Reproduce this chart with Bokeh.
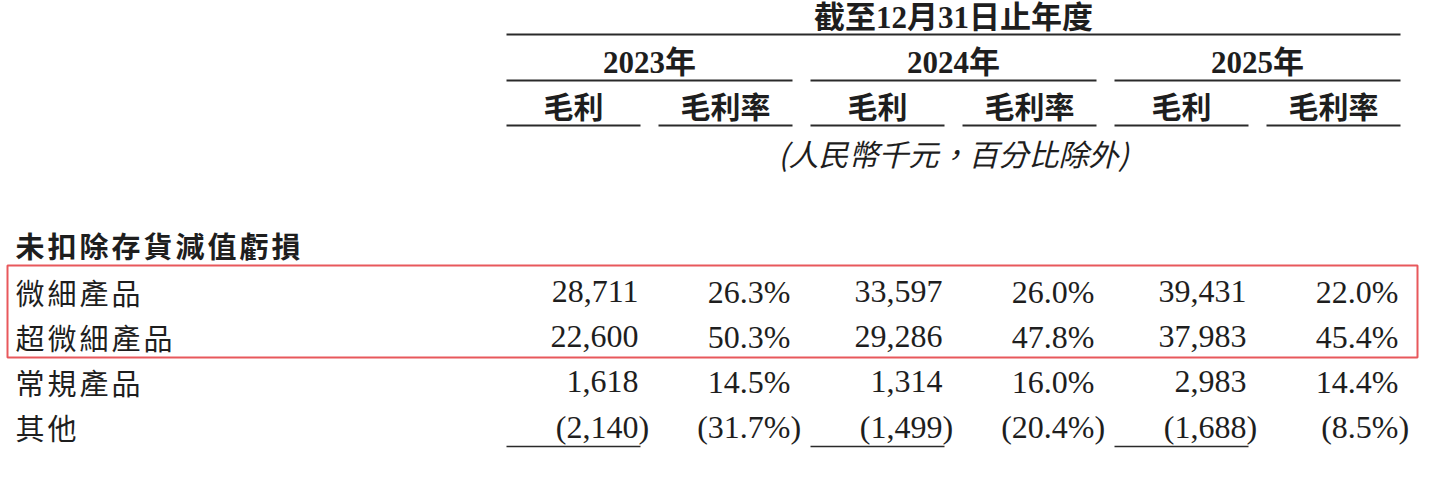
from bokeh.plotting import figure
from bokeh.models import Range1d, ColumnDataSource
from bokeh.core.properties import value
from bokeh.embed import file_html
from bokeh.resources import INLINE

# ---------------- data ----------------
title = "截至12月31日止年度"
years = ["2023年", "2024年", "2025年"]
sub_headers = ["毛利", "毛利率"]
unit_note = "(人民幣千元，百分比除外)"
section = "未扣除存貨減值虧損"
categories = ["微細產品", "超微細產品", "常規產品", "其他"]
gp_2023 = [28711, 22600, 1618, -2140]
gm_2023 = [26.3, 50.3, 14.5, -31.7]
gp_2024 = [33597, 29286, 1314, -1499]
gm_2024 = [26.0, 47.8, 16.0, -20.4]
gp_2025 = [39431, 37983, 2983, -1688]
gm_2025 = [22.0, 45.4, 14.4, -8.5]
highlighted = ["微細產品", "超微細產品"]

# ---------------- layout ----------------
W, H = 1422, 462
group_left = [506, 810, 1114]
sub_w, gap = 134, 18
group_w = 2 * sub_w + gap
row_y0, row_dy = 291, 45
ink = "#1e1e1e"
SERIF_CJK = "'Liberation Serif', 'Noto Sans CJK TC'"
CJK = "'Noto Sans CJK TC'"

p = figure(width=W, height=H, output_backend="svg", toolbar_location=None,
           x_range=Range1d(0, W), y_range=Range1d(H, 0),
           min_border=0)
p.axis.visible = False
p.grid.visible = False
p.outline_line_color = None
p.background_fill_color = "white"
p.border_fill_color = "white"


def txt(x, y, t, size, align="center", bold=False, italic=False, font=SERIF_CJK):
    p.text(x=[x], y=[y], text=[t], text_font=value(font),
           text_font_size=f"{size}px", text_align=align, text_baseline="middle",
           text_font_style=("bold" if bold else ("italic" if italic else "normal")),
           text_color=ink)


def spaced(x, y, t, size, pitch, bold=False):
    # CJK text set with letter spacing: one glyph per character
    xs = [x + i * pitch for i in range(len(t))]
    p.text(x=xs, y=[y] * len(t), text=list(t), text_font=value(CJK),
           text_font_size=f"{size}px", text_align="left", text_baseline="middle",
           text_font_style=("bold" if bold else "normal"), text_color=ink)


def hline(x0, x1, y, w=2.2):
    p.segment(x0=[x0], y0=[y], x1=[x1], y1=[y], line_color="#2a2a2a", line_width=w)


full_left, full_right = group_left[0], group_left[-1] + group_w
centre = (full_left + full_right) / 2

# header
txt(centre, 17, title, 31, bold=True)
hline(full_left, full_right, 34)
for gl, yr in zip(group_left, years):
    txt(gl + group_w / 2, 62, yr, 31, bold=True)
    hline(gl, gl + group_w, 80)
    for k, sh in enumerate(sub_headers):
        x0 = gl + k * (sub_w + gap)
        txt(x0 + sub_w / 2, 104, sh, 30, bold=True, font=CJK)
        hline(x0, x0 + sub_w, 125)
txt(centre, 152, unit_note, 30, italic=True, font=CJK)

# section title
spaced(15, 244, section, 29, 32, bold=True)

# rows
row_ys = [row_y0 + i * row_dy for i in range(len(categories))]
for y, c in zip(row_ys, categories):
    spaced(15, y, c, 29, 32)


def fmt_num(v):
    s = f"{abs(v):,}"
    return "(" + s if v < 0 else s


def fmt_pct(v):
    s = f"{abs(v):.1f}%"
    return "(" + s if v < 0 else s


series = [(gp_2023, gm_2023), (gp_2024, gm_2024), (gp_2025, gm_2025)]
for gl, (gp, gm) in zip(group_left, series):
    for k, (vals, f) in enumerate([(gp, fmt_num), (gm, fmt_pct)]):
        xr = gl + k * (sub_w + gap) + sub_w - 2
        src = ColumnDataSource(dict(x=[xr] * len(vals), y=row_ys, t=[f(v) for v in vals]))
        p.text(x="x", y="y", text="t", source=src, text_font=value("Liberation Serif"),
               text_font_size="32px", text_align="right", text_baseline="middle",
               text_color=ink)
        neg_y = [y for y, v in zip(row_ys, vals) if v < 0]
        p.text(x=[xr] * len(neg_y), y=neg_y, text=[")"] * len(neg_y),
               text_font=value("Liberation Serif"), text_font_size="32px",
               text_align="left", text_baseline="middle", text_color=ink)
    # underline beneath last row of the gross profit column
    hline(gl, gl + sub_w, row_ys[-1] + 20, w=1.6)

# highlight box around selected rows
hi = [row_ys[categories.index(c)] for c in highlighted]
p.quad(left=[7], right=[1417], top=[min(hi) - 26], bottom=[max(hi) + 21],
       fill_color=None, line_color="#e8585c", line_width=2)

open("out.html", "w").write(file_html(p, INLINE))
